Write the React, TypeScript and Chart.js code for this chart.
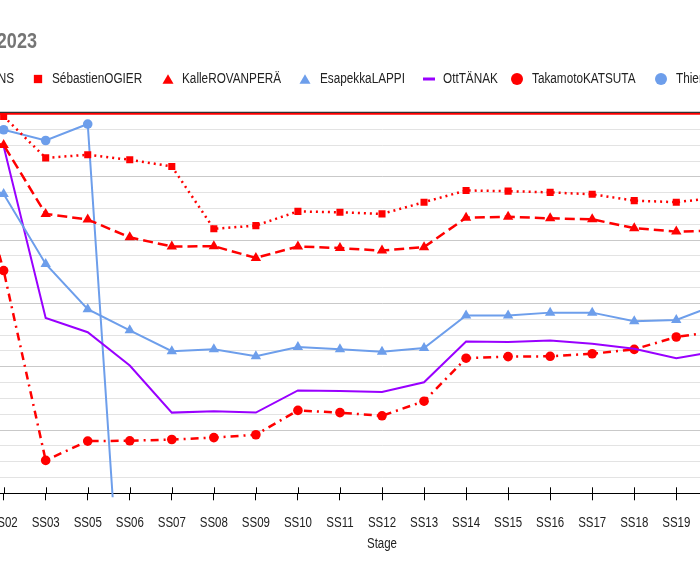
import React, { useEffect, useRef } from "react";
import { Chart, registerables } from "chart.js";

Chart.register(...registerables);

// ---------- data ----------
const stages = [
  "SS01", "SS02", "SS03", "SS05", "SS06", "SS07", "SS08", "SS09", "SS10", "SS11",
  "SS12", "SS13", "SS14", "SS15", "SS16", "SS17", "SS18", "SS19", "SS20", "SS21", "SS22",
];

const evans = [0, 0, 0, 0, 0, 0, 0, 0, 0, 0, 0, 0, 0, 0, 0, 0, 0, 0, 0, 0, 0];
const ogier = [2, 0.9, 14.0, 13.0, 14.6, 16.7, 36.4, 35.4, 30.9, 31.2, 31.7, 28.0, 24.3, 24.5, 24.9, 25.5, 27.5, 28.0, 26.5, 26.0, 25.0];
const rovanpera = [8, 9.9, 31.7, 33.5, 39.1, 42.0, 41.9, 45.6, 42.0, 42.5, 43.3, 42.2, 32.9, 32.6, 33.1, 33.4, 36.2, 37.3, 37.0, 36.5, 36.0];
const lappi = [20, 25.4, 47.5, 61.8, 68.5, 75.1, 74.5, 76.7, 73.8, 74.5, 75.3, 74.1, 63.8, 63.8, 62.9, 62.9, 65.6, 65.2, 60.2, 60.0, 59.5];
const tanak = [5, 10.3, 64.6, 69.1, 79.6, 94.5, 94.1, 94.5, 87.5, 87.7, 88.0, 84.9, 72.0, 72.2, 71.7, 72.7, 74.3, 77.3, 75.0, 74.5, 74.0];
const katsuta = [2, 49.6, 109.6, 103.5, 103.4, 103.0, 102.4, 101.5, 93.8, 94.5, 95.5, 90.9, 77.3, 76.8, 76.7, 75.9, 74.5, 70.6, 68.8, 68.0, 67.5];
const neuville = [4, 5.1, 8.5, 3.3, 202, null, null, null, null, null, null, null, null, null, null, null, null, null, null, null, null];

const seriesNames = [
  "ElfynEVANS", "SébastienOGIER", "KalleROVANPERÄ", "EsapekkaLAPPI",
  "OttTÄNAK", "TakamotoKATSUTA", "ThierryNEUVILLE",
];
const seriesColors = ["#ff0000", "#ff0000", "#ff0000", "#6d9eeb", "#9900ff", "#ff0000", "#6d9eeb"];
const seriesMarkers = ["line", "square", "triangle", "triangle", "line", "circle", "circle"];

const titleText = "2023";
const xTitle = "Stage";

const FONT = "'Liberation Sans', Arial, sans-serif";
const NARROW = 0.82; // emulate a narrow sans face by horizontal scaling
const LEGEND_NARROW = 0.84;

// legend marker centres (page x)
const legendMarkerX = [-66, 37.5, 167.8, 305.3, 428.7, 517.3, 661];

const extraDraw = {
  id: "extraDraw",
  afterDatasetsDraw(chart: any) {
    const { ctx, chartArea } = chart;
    const x = chart.scales.x;
    ctx.save();
    // dark baseline at top
    ctx.strokeStyle = "#333333";
    ctx.lineWidth = 1.3;
    ctx.beginPath();
    ctx.moveTo(chartArea.left, chartArea.top - 1.3);
    ctx.lineTo(chartArea.right, chartArea.top - 1.3);
    ctx.stroke();
    // upward half of tick marks
    ctx.strokeStyle = "#000000";
    ctx.lineWidth = 1;
    x.ticks.forEach((_: any, i: number) => {
      const px = Math.round(x.getPixelForTick(i)) + 0.5;
      ctx.beginPath();
      ctx.moveTo(px, chartArea.bottom - 6);
      ctx.lineTo(px, chartArea.bottom);
      ctx.stroke();
    });
    ctx.restore();
  },
  afterDraw(chart: any) {
    const { ctx, chartArea } = chart;
    const x = chart.scales.x;
    ctx.save();
    ctx.fillStyle = "#222222";
    ctx.font = `14px ${FONT}`;
    ctx.textAlign = "center";
    ctx.textBaseline = "middle";
    x.ticks.forEach((t: any, i: number) => {
      const px = x.getPixelForTick(i);
      ctx.save();
      ctx.translate(px, chartArea.bottom + 29.4);
      ctx.scale(NARROW, 1);
      ctx.fillText(String(x.getLabelForValue(t.value)), 0, 0);
      ctx.restore();
    });
    ctx.save();
    ctx.translate((chartArea.left + chartArea.right) / 2, 544);
    ctx.scale(NARROW, 1);
    ctx.fillText(xTitle, 0, 0);
    ctx.restore();
    ctx.restore();
  },
};

function Marker({ kind, color }: { kind: string; color: string }) {
  let shape: any = null;
  if (kind === "square") shape = <rect x={1.85} y={1.85} width={8.3} height={8.3} fill={color} />;
  else if (kind === "triangle") shape = <polygon points="0.5,10.7 11.5,10.7 6,1.3" fill={color} />;
  else if (kind === "circle") shape = <circle cx={6} cy={6} r={6} fill={color} />;
  else shape = <rect x={0} y={4.5} width={12} height={3} fill={color} />;
  return (
    <svg width={12} height={12} style={{ display: "block" }}>
      {shape}
    </svg>
  );
}

export default function App() {
  const ref = useRef<HTMLCanvasElement | null>(null);

  useEffect(() => {
    const cv = ref.current;
    if (!cv) return;
    const clip = { left: 0, top: 4, right: 0, bottom: 4 } as any;
    const chart = new Chart(cv, {
      type: "line",
      data: {
        labels: stages,
        datasets: [
          {
            label: seriesNames[0], data: evans, borderColor: seriesColors[0], backgroundColor: seriesColors[0],
            borderWidth: 2.2, pointRadius: 0, clip,
          },
          {
            label: seriesNames[1], data: ogier, borderColor: seriesColors[1], backgroundColor: seriesColors[1],
            borderWidth: 2.5, borderDash: [2, 4], pointStyle: "rect", pointRadius: 5, pointBorderWidth: 0, clip,
          },
          {
            label: seriesNames[2], data: rovanpera, borderColor: seriesColors[2], backgroundColor: seriesColors[2],
            borderWidth: 2.5, borderDash: [10, 5], pointStyle: "triangle", pointRadius: 6, pointBorderWidth: 0, clip,
          },
          {
            label: seriesNames[3], data: lappi, borderColor: seriesColors[3], backgroundColor: seriesColors[3],
            borderWidth: 2, pointStyle: "triangle", pointRadius: 6, pointBorderWidth: 0, clip,
          },
          {
            label: seriesNames[4], data: tanak, borderColor: seriesColors[4], backgroundColor: seriesColors[4],
            borderWidth: 2, pointRadius: 0, clip,
          },
          {
            label: seriesNames[5], data: katsuta, borderColor: seriesColors[5], backgroundColor: seriesColors[5],
            borderWidth: 2.5, borderDash: [8, 5, 2, 5], pointStyle: "circle", pointRadius: 4.8, pointBorderWidth: 0, clip,
          },
          {
            label: seriesNames[6], data: neuville as any, borderColor: seriesColors[6], backgroundColor: seriesColors[6],
            borderWidth: 2, pointStyle: "circle", pointRadius: 4.8, pointBorderWidth: 0, clip,
          },
        ],
      },
      options: {
        responsive: false,
        animation: false,
        events: [],
        layout: { padding: { left: 61.6, right: 97.6, top: 113.6, bottom: 79.7 } },
        plugins: {
          legend: { display: false },
          title: { display: false },
          tooltip: { enabled: false },
        },
        scales: {
          x: {
            type: "category",
            offset: false,
            grid: { display: true, drawOnChartArea: false, drawTicks: true, tickLength: 7, color: "#000000" },
            border: { display: true, color: "#000000", width: 1 },
            ticks: { display: false, autoSkip: false, maxRotation: 0 },
            title: { display: false },
          },
          y: {
            reverse: true,
            min: 0,
            max: 120,
            ticks: { display: false, stepSize: 5 },
            grid: {
              drawTicks: false,
              color: (c: any) => (c.tick && c.tick.value % 20 === 0 ? "#c9c9c9" : "#e3e3e3"),
            },
            border: { display: false },
          },
        },
      },
      plugins: [extraDraw],
    });
    return () => chart.destroy();
  }, []);

  return (
    <div
      style={{
        position: "fixed", left: 0, top: 0, width: 700, height: 580,
        overflow: "hidden", background: "#ffffff",
      }}
    >
      <canvas
        ref={ref}
        width={1000}
        height={580}
        style={{ position: "absolute", left: -100, top: 0, width: 1000, height: 580, display: "block" }}
      />
      <div
        style={{
          position: "absolute", right: 663.5, top: 29.9, fontFamily: FONT, fontWeight: "bold",
          fontSize: 22, lineHeight: "22px", color: "#757575", whiteSpace: "nowrap",
          transform: `scaleX(${NARROW})`, transformOrigin: "right center",
        }}
      >
        {titleText}
      </div>
      {seriesNames.map((n, i) => (
        <React.Fragment key={n}>
          <div style={{ position: "absolute", left: legendMarkerX[i] - 6, top: 72.5, width: 12, height: 12 }}>
            <Marker kind={seriesMarkers[i]} color={seriesColors[i]} />
          </div>
          <div
            style={{
              position: "absolute", left: legendMarkerX[i] + 14.6, top: 70, height: 17, lineHeight: "17px",
              fontFamily: FONT, fontSize: 14, color: "#222222", whiteSpace: "nowrap",
              transform: `scaleX(${LEGEND_NARROW})`, transformOrigin: "left center",
            }}
          >
            {n}
          </div>
        </React.Fragment>
      ))}
    </div>
  );
}
